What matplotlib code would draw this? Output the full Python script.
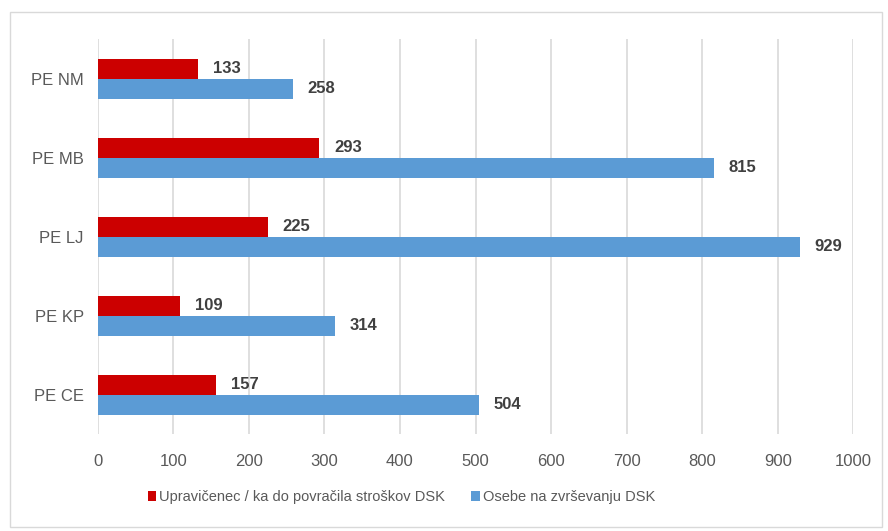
import matplotlib.pyplot as plt
from matplotlib.patches import Rectangle
import numpy as np

# categories bottom to top
categories = ['PE CE', 'PE KP', 'PE LJ', 'PE MB', 'PE NM']
upravicenci = [157, 109, 225, 293, 133]
osebe = [504, 314, 929, 815, 258]
series_names = ['Upravičenec / ka do povračila stroškov DSK', 'Osebe na zvrševanju DSK']

plt.rcParams['font.family'] = ['Liberation Sans', 'DejaVu Sans']

fig = plt.figure(figsize=(8.88, 5.31), dpi=100)
ax = fig.add_axes([0.110, 0.182, 0.851, 0.744])

# chart border
fig.patches.append(Rectangle((10/888, 4/531), 872/888, 515/531, transform=fig.transFigure,
                             fill=False, edgecolor='#d9d9d9', linewidth=1))

y = np.arange(len(categories))
h = 0.253
red = '#cc0000'
blue = '#5b9bd5'
b1 = ax.barh(y + h/2, upravicenci, height=h, color=red, label=series_names[0], zorder=3)
b2 = ax.barh(y - h/2, osebe, height=h, color=blue, label=series_names[1], zorder=3)

for bars in (b1, b2):
    for bar in bars:
        w = bar.get_width()
        ax.text(w + 20, bar.get_y() + bar.get_height()/2, str(int(w)), va='center', ha='left',
                fontsize=12, fontweight='bold', color='#404040')

ax.set_xlim(0, 1000)
ax.set_ylim(-0.5, len(categories) - 0.5)
ax.set_xticks(range(0, 1001, 100))
ax.set_yticks(y)
ax.set_yticklabels(categories)
ax.xaxis.grid(True, color='#d9d9d9', linewidth=1.2, zorder=0)
ax.tick_params(axis='both', length=0, colors='#595959', labelsize=12)
ax.tick_params(axis='x', pad=14)
ax.tick_params(axis='y', pad=10)
for s in ax.spines.values():
    s.set_visible(False)

fig.legend(loc='center', bbox_to_anchor=(0.452, 0.064), ncol=2, frameon=False, fontsize=10.5,
           handlelength=0.6, handleheight=0.6, handletextpad=0.2, columnspacing=1.8,
           labelcolor='#595959')

fig.savefig('out.png', dpi=100)
